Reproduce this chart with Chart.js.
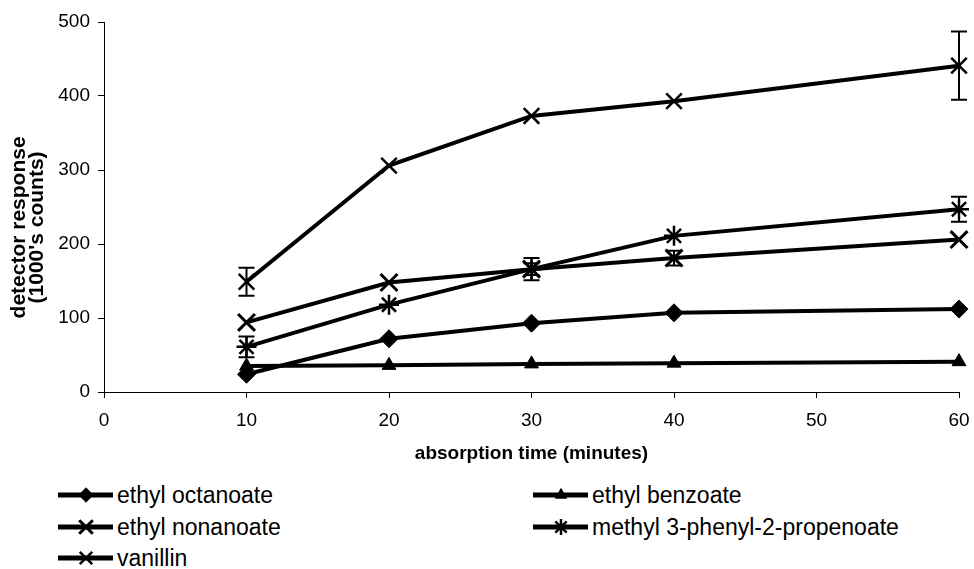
<!DOCTYPE html>
<html>
<head>
<meta charset="utf-8">
<script src="https://cdn.jsdelivr.net/npm/chart.js@4.4.0/dist/chart.umd.min.js"></script>
<style>
  html, body { margin: 0; padding: 0; background: #fff; }
  #wrap { position: relative; width: 974px; height: 569px; }
  #chart { position: absolute; left: 0; top: 0; }
  .item {
    position: absolute; height: 30px; display: flex; align-items: center;
    font-family: "Liberation Sans", Arial, sans-serif; font-size: 23px; color: #000;
    white-space: nowrap;
  }
  .item canvas { margin-right: 3px; }
</style>
</head>
<body>
<div id="wrap">
  <canvas id="chart" width="974" height="475"></canvas>
  <div id="legend"></div>
</div>
<script>
const FONT = '"Liberation Sans", Arial, sans-serif';

// absorption time (minutes)
const times = [10, 20, 30, 40, 60];

const seriesNames = [
  'ethyl octanoate',
  'ethyl benzoate',
  'ethyl nonanoate',
  'methyl 3-phenyl-2-propenoate',
  'vanillin'
];

// detector response (1000's counts)
const ethylOctanoate = [24, 72, 93, 107, 112];
const ethylBenzoate = [35, 36, 38, 39, 41];
const ethylNonanoate = [94, 148, 166, 181, 206];
const methylPropenoate = [61, 118, 166, 211, 247];
const vanillin = [149, 306, 373, 393, 441];

// +/- error bars (0 = none drawn)
const ethylOctanoateErr = [0, 0, 0, 0, 0];
const ethylBenzoateErr = [0, 0, 0, 0, 0];
const ethylNonanoateErr = [0, 0, 8, 10, 0];
const methylPropenoateErr = [14, 0, 15, 0, 17];
const vanillinErr = [19, 0, 0, 0, 46];

const xTicks = [0, 10, 20, 30, 40, 50, 60];
const yTicks = [0, 100, 200, 300, 400, 500];

const values = [ethylOctanoate, ethylBenzoate, ethylNonanoate, methylPropenoate, vanillin];
const errors = [ethylOctanoateErr, ethylBenzoateErr, ethylNonanoateErr, methylPropenoateErr, vanillinErr];
const markers = [
  { pointStyle: 'rectRot', pointRadius: 9, pointBorderWidth: 1 },
  { pointStyle: 'triangle', pointRadius: 8, pointBorderWidth: 1 },
  { pointStyle: 'crossRot', pointRadius: 12, pointBorderWidth: 3 },
  { pointStyle: 'star', pointRadius: 10, pointBorderWidth: 2.5 },
  { pointStyle: 'crossRot', pointRadius: 11, pointBorderWidth: 2.5 }
];

const datasets = seriesNames.map((name, i) => ({
  label: name,
  data: times.map((t, j) => ({ x: t, y: values[i][j] })),
  errors: errors[i],
  borderColor: '#000',
  backgroundColor: '#000',
  pointBackgroundColor: '#000',
  pointBorderColor: '#000',
  borderWidth: 4,
  pointHoverRadius: markers[i].pointRadius,
  tension: 0,
  clip: false,
  ...markers[i]
}));

const errorBars = {
  id: 'errorBars',
  afterDatasetsDraw(chart) {
    const ctx = chart.ctx;
    const xs = chart.scales.x, ys = chart.scales.y;
    ctx.save();
    ctx.strokeStyle = '#000';
    ctx.lineWidth = 2;
    chart.data.datasets.forEach(ds => {
      ds.data.forEach((p, j) => {
        const e = ds.errors[j];
        if (!e) return;
        const px = xs.getPixelForValue(p.x);
        const top = ys.getPixelForValue(p.y + e);
        const bot = ys.getPixelForValue(p.y - e);
        ctx.beginPath();
        ctx.moveTo(px, top); ctx.lineTo(px, bot);
        ctx.moveTo(px - 8, top); ctx.lineTo(px + 8, top);
        ctx.moveTo(px - 8, bot); ctx.lineTo(px + 8, bot);
        ctx.stroke();
      });
    });
    ctx.restore();
  }
};

// trailing blanks push the rotated title a little below the axis centre, as in the original
const pad = '\u00a0'.repeat(7);

new Chart(document.getElementById('chart'), {
  type: 'line',
  data: { datasets },
  options: {
    responsive: false,
    animation: false,
    events: [],
    layout: { padding: { left: 0, right: 14, top: 22, bottom: 0 } },
    plugins: { legend: { display: false }, tooltip: { enabled: false } },
    scales: {
      x: {
        type: 'linear',
        min: 0,
        max: 60,
        afterBuildTicks: s => { s.ticks = xTicks.map(v => ({ value: v })); },
        afterFit: s => { s.height = 83; s.paddingLeft = 0; s.paddingRight = 0; },
        grid: { drawOnChartArea: false, drawTicks: true, tickLength: 6, color: '#000', lineWidth: 1 },
        border: { color: '#000', width: 1 },
        ticks: { color: '#000', font: { family: FONT, size: 19 }, padding: 11, maxRotation: 0 },
        title: {
          display: true,
          text: 'absorption time (minutes)',
          color: '#000',
          font: { family: FONT, size: 19, weight: 'bold' },
          padding: { top: 0, bottom: 10 }
        }
      },
      y: {
        min: 0,
        max: 500,
        afterBuildTicks: s => { s.ticks = yTicks.map(v => ({ value: v })); },
        afterFit: s => { s.width = 104; s.paddingTop = 0; s.paddingBottom = 0; },
        grid: { drawOnChartArea: false, drawTicks: true, tickLength: 6, color: '#000', lineWidth: 1 },
        border: { color: '#000', width: 1 },
        ticks: { color: '#000', font: { family: FONT, size: 19 }, padding: 8 },
        title: {
          display: true,
          text: ['detector response' + pad, "(1000's counts)" + pad],
          color: '#000',
          font: { family: FONT, size: 21, weight: 'bold', lineHeight: 0.86 },
          padding: { top: 10, bottom: 0 }
        }
      }
    }
  },
  plugins: [errorBars]
});

// legend: two columns, line + marker sample then name
const legend = document.getElementById('legend');
const legendCols = [58, 533];
const legendRows = [480, 512, 543];
datasets.forEach((ds, i) => {
  const item = document.createElement('div');
  item.className = 'item';
  item.style.left = legendCols[i % 2] + 'px';
  item.style.top = legendRows[Math.floor(i / 2)] + 'px';
  const c = document.createElement('canvas');
  c.width = 56; c.height = 30;
  const g = c.getContext('2d');
  g.strokeStyle = '#000';
  g.lineWidth = 5;
  g.beginPath(); g.moveTo(0, 15); g.lineTo(55, 15); g.stroke();
  g.fillStyle = '#000';
  g.lineWidth = ds.pointBorderWidth;
  Chart.helpers.drawPoint(g, {
    pointStyle: ds.pointStyle,
    radius: ds.pointRadius * 0.8,
    rotation: 0,
    borderWidth: ds.pointBorderWidth
  }, 28, 15);
  const span = document.createElement('span');
  span.textContent = ds.label;
  item.appendChild(c);
  item.appendChild(span);
  legend.appendChild(item);
});
</script>
</body>
</html>
